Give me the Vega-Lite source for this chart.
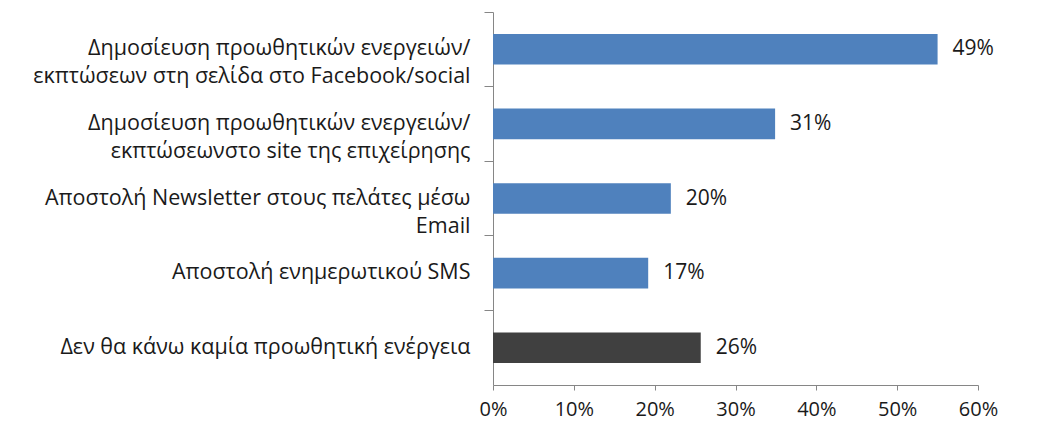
{
  "$schema": "https://vega.github.io/schema/vega-lite/v6.json",
  "width": 485,
  "height": 373,
  "autosize": "none",
  "padding": {"left": 493, "top": 12, "right": 86, "bottom": 46},
  "background": "white",
  "config": {"view": {"stroke": null}, "font": "Open Sans"},
  "data": {
    "values": [
      {"category": "Δημοσίευση προωθητικών ενεργειών/\nεκπτώσεων στη σελίδα στο Facebook/social", "value": 0.55, "label": "49%", "group": "a"},
      {"category": "Δημοσίευση προωθητικών ενεργειών/\nεκπτώσεωνστο site της επιχείρησης", "value": 0.349, "label": "31%", "group": "a"},
      {"category": "Αποστολή Newsletter  στους πελάτες μέσω\nEmail", "value": 0.22, "label": "20%", "group": "a"},
      {"category": "Αποστολή ενημερωτικού SMS", "value": 0.192, "label": "17%", "group": "a"},
      {"category": "Δεν θα κάνω καμία προωθητική ενέργεια", "value": 0.257, "label": "26%", "group": "b"}
    ]
  },
  "encoding": {
    "y": {
      "field": "category",
      "type": "nominal",
      "sort": null,
      "scale": {"paddingInner": 0.59, "paddingOuter": 0.295},
      "axis": {
        "title": null,
        "labelExpr": "split(datum.label, '\\n')",
        "labelFont": "Open Sans",
        "labelFontSize": 21.5,
        "labelColor": "#1a1a1a",
        "labelLimit": 520,
        "labelPadding": 14,
        "labelLineHeight": 28,
        "domainColor": "#868686",
        "tickColor": "#868686",
        "tickSize": 9,
        "bandPosition": -0.7195,
        "grid": false
      }
    },
    "x": {
      "field": "value",
      "type": "quantitative",
      "scale": {"domain": [0, 0.6], "nice": false},
      "axis": {
        "title": null,
        "values": [0, 0.1, 0.2, 0.3, 0.4, 0.5, 0.6],
        "format": ".0%",
        "labelFont": "Open Sans",
        "labelFontSize": 20,
        "labelColor": "#1a1a1a",
        "labelPadding": 9,
        "domainColor": "#868686",
        "tickColor": "#868686",
        "tickSize": 5,
        "grid": false,
        "labelFlush": false
      }
    }
  },
  "layer": [
    {
      "mark": {"type": "bar"},
      "encoding": {
        "color": {
          "field": "group",
          "type": "nominal",
          "scale": {"domain": ["a", "b"], "range": ["#4f81bd", "#404040"]},
          "legend": null
        }
      }
    },
    {
      "mark": {"type": "text", "align": "left", "dx": 15, "font": "Open Sans", "fontSize": 21, "color": "#1a1a1a"},
      "encoding": {"text": {"field": "label"}}
    }
  ]
}
